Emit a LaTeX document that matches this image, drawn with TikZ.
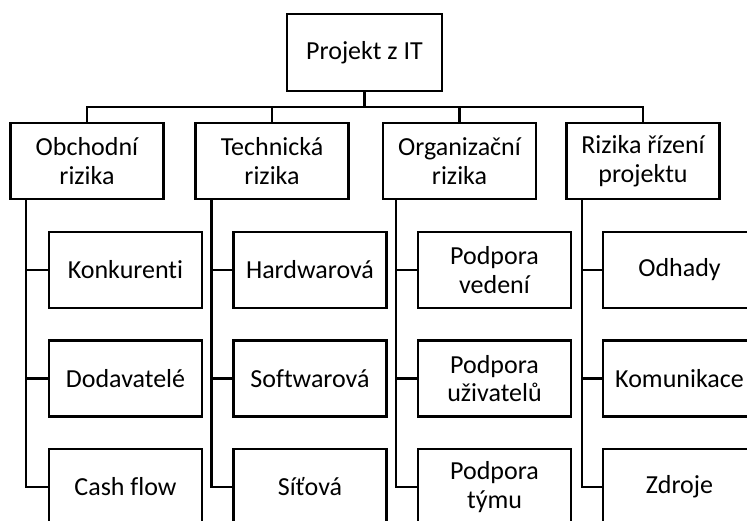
\documentclass[tikz,border=0pt]{standalone}
\usepackage{fontspec}
\setmainfont[Ligatures=NoCommon]{Carlito}
\begin{document}
\begin{tikzpicture}[x=1pt,y=-1pt,
  box/.style={draw,line width=2.2pt,minimum width=153pt,minimum height=76pt,inner sep=0pt,align=center,font=\fontsize{26}{28.5}\selectfont},
  conn/.style={line width=2.2pt}]
\useasboundingbox (0,0) rectangle (747,520);
\clip (0,0) rectangle (747,520);
\node[box,minimum width=155pt,minimum height=77pt] (root) at (364.5,52.5) {Projekt z IT};
\node[box] (t1) at (87,161) {Obchodní\\rizika};
\node[box] (t2) at (272,161) {Technická\\rizika};
\node[box] (t3) at (459.5,161) {Organizační\\rizika};
\node[box] (t4) at (643,161) {Rizika řízení\\projektu};
\node[box] (c11) at (125.5,270) {Konkurenti};
\node[box] (c12) at (125.5,378.5) {Dodavatelé};
\node[box] (c13) at (125.5,487) {Cash flow};
\node[box] (c21) at (310,270) {Hardwarová};
\node[box] (c22) at (310,378.5) {Softwarová};
\node[box] (c23) at (310,487) {Síťová};
\node[box] (c31) at (494.5,270) {Podpora\\vedení};
\node[box] (c32) at (494.5,378.5) {Podpora\\uživatelů};
\node[box] (c33) at (494.5,487) {Podpora\\týmu};
\node[box] (c41) at (679.5,270) {Odhady};
\node[box] (c42) at (679.5,378.5) {Komunikace};
\node[box] (c43) at (679.5,487) {Zdroje};
\coordinate (bar) at (364.5,107);
\draw[conn] (root.south) -- (bar);
\draw[conn] (t1.north) |- (bar) -| (t4.north);
\draw[conn] (t2.north) -- (t2.north |- bar);
\draw[conn] (t3.north) -- (t3.north |- bar);
\foreach \i/\v in {1/26,2/211.5,3/396,4/582}{
  \coordinate (v\i) at (\v,199);
  \draw[conn] (v\i) |- (c\i3.west);
  \draw[conn] (c\i1.west) -- (c\i1.west -| v\i);
  \draw[conn] (c\i2.west) -- (c\i2.west -| v\i);
}
\end{tikzpicture}
\end{document}
